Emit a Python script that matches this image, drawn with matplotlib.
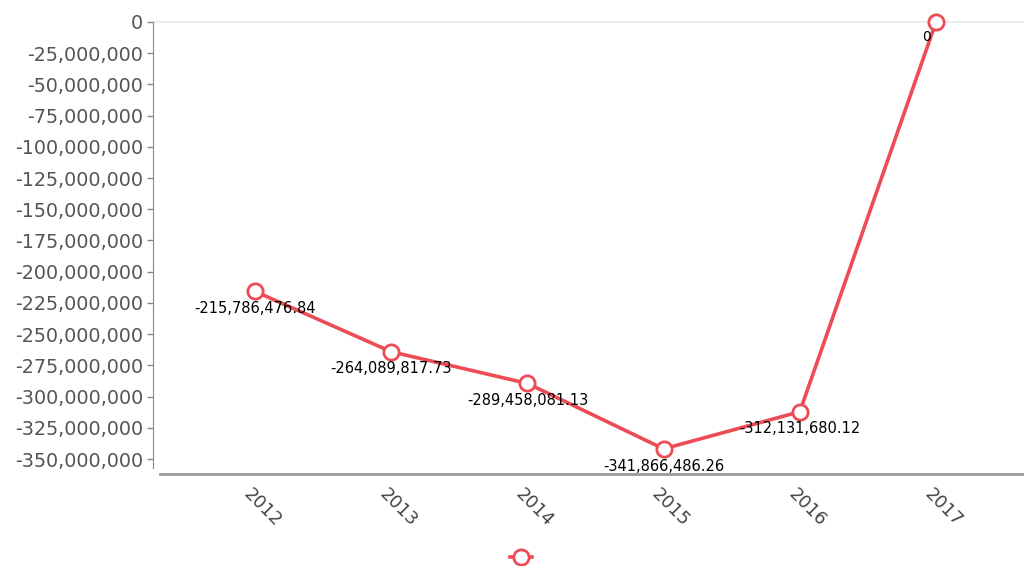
import numpy as np
import matplotlib.pyplot as plt
from matplotlib.ticker import FuncFormatter
from matplotlib.lines import Line2D
import matplotlib.transforms as mtransforms

years = ['2012', '2013', '2014', '2015', '2016', '2017']
values = [-215786476.84, -264089817.73, -289458081.13,
          -341866486.26, -312131680.12, 0]
labels = ['-215,786,476.84', '-264,089,817.73', '-289,458,081.13',
          '-341,866,486.26', '-312,131,680.12', '0']
yticks = np.arange(-350000000, 1, 25000000)

red = '#ee4c55'

fig = plt.figure(figsize=(10.24, 5.66), dpi=100)
ax = fig.add_axes([153 / 1024, 92 / 566, 871 / 1024, 474 / 566])

x = np.arange(len(years))
ax.plot(x, values, color=red, lw=2.6, marker='o', ms=11,
        mfc='white', mec=red, mew=2, zorder=3, clip_on=False)

# value labels under each point
for i, (v, lab) in enumerate(zip(values, labels)):
    if v == 0:
        ax.annotate(lab, (i, v), xytext=(-7, -6), textcoords='offset points',
                    ha='center', va='top', fontsize=10, color='black')
    else:
        ax.annotate(lab, (i, v), xytext=(0, -7), textcoords='offset points',
                    ha='center', va='top', fontsize=10.5, color='black')

ax.axhline(0, color='#eeeeee', lw=1.5, zorder=0)

ax.set_xlim(-0.749, 5.646)
ax.set_ylim(-362e6, 17.6e6)

ax.set_yticks(yticks)
ax.yaxis.set_major_formatter(FuncFormatter(lambda v, p: '{:,.0f}'.format(v).replace('\u2212', '-')))
ax.tick_params(axis='y', labelsize=13.8, labelcolor='#555555', color='#888888',
               length=4, width=1, pad=3)

ax.set_xticks(x)
ax.set_xticklabels(years, rotation=-45, ha='center', va='top',
                   fontsize=13, color='#444444')
ax.tick_params(axis='x', length=0, pad=8)
offset = mtransforms.ScaledTranslation(7 / 100, 0, fig.dpi_scale_trans)
for t in ax.get_xticklabels():
    t.set_transform(t.get_transform() + offset)

for s in ['top', 'right']:
    ax.spines[s].set_visible(False)
ax.spines['left'].set_color('#888888')
ax.spines['left'].set_bounds(-357e6, 0)
ax.spines['bottom'].set_color('#999999')
ax.spines['bottom'].set_linewidth(2)
ax.spines['bottom'].set_bounds(-0.698, 5.646)

handle = Line2D([], [], color=red, lw=2.6, marker='o', ms=11,
                mfc='white', mec=red, mew=2)
fig.legend([handle], [' '], loc='center', bbox_to_anchor=(0.516, 0.014),
           frameon=False, handlelength=1.6, fontsize=10)

fig.savefig('out.png', dpi=100)
